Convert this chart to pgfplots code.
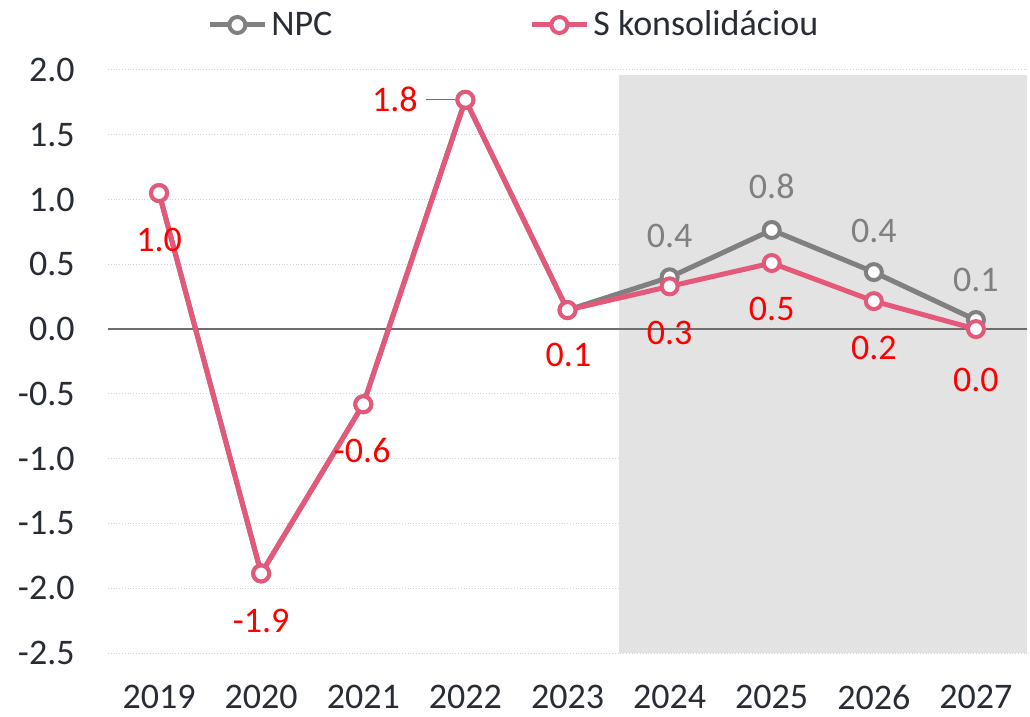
\documentclass[border=0pt]{standalone}
\usepackage{fontspec}
\setmainfont{Carlito}
\usepackage{pgfplots}
\pgfplotsset{compat=1.18}
\definecolor{npc}{RGB}{128,128,128}
\definecolor{kons}{RGB}{228,88,122}
\definecolor{shadebg}{RGB}{227,227,227}
\definecolor{txt}{RGB}{40,44,52}
\definecolor{lblred}{RGB}{255,0,0}
\definecolor{lblgray}{RGB}{128,128,128}
\definecolor{zeroline}{RGB}{110,110,110}
\begin{document}
\begin{tikzpicture}[font=\fontsize{18}{22}\selectfont]
\begin{axis}[
  set layers,
  scale only axis, width=459.5pt, height=291.5pt,
  xmin=-0.5, xmax=8.5, ymin=-2.5, ymax=2.0,
  axis line style={draw=none},
  xtick={0,1,2,3,4,5,6,7,8},
  xticklabels={2019,2020,2021,2022,2023,2024,2025,2026,2027},
  ytick={-2.5,-2,-1.5,-1,-0.5,0,0.5,1,1.5,2},
  yticklabels={-2.5,-2.0,-1.5,-1.0,-0.5,0.0,0.5,1.0,1.5,2.0},
  major tick length=0pt,
  ymajorgrids,
  major grid style={densely dotted, color=black!18, line width=0.5pt},
  tick label style={text=txt, inner sep=0pt},
  yticklabel style={anchor=east, xshift=-16.5pt},
  xticklabel style={anchor=north, yshift=-16pt},
  legend columns=2,
  legend style={draw=none, fill=none, at={(axis description cs:0.1077,1.0772)}, anchor=west,
    inner sep=0pt, text=txt, cells={anchor=west},
    /tikz/every even column/.append style={column sep=96.5pt}},
  legend image code/.code={\draw[mark repeat=2,mark phase=2,#1] plot coordinates {(0pt,0pt)(13.75pt,0pt)(27.5pt,0pt)};},
]
\fill[fill=shadebg, on layer=axis background] (axis cs:4.5,-2.5) rectangle (axis cs:8.5,1.96);
\draw[zeroline, line width=1pt] (axis cs:-0.5,0) -- (axis cs:8.5,0);

\addplot[npc, line width=2.5pt, mark=*, mark size=4pt, mark options={fill=white, draw=npc, line width=2pt, solid}]
  coordinates {(0,1.05) (1,-1.886) (2,-0.58) (3,1.77) (4,0.147) (5,0.40) (6,0.765) (7,0.44) (8,0.07)};
\addlegendentry{NPC}
\addplot[kons, line width=2.5pt, mark=*, mark size=4pt, mark options={fill=white, draw=kons, line width=2pt, solid}]
  coordinates {(0,1.05) (1,-1.886) (2,-0.58) (3,1.77) (4,0.147) (5,0.33) (6,0.51) (7,0.216) (8,0.0)};
\addlegendentry{S konsolidáciou}

\draw[zeroline, line width=0.6pt] (axis cs:2.618,1.77) -- (axis cs:2.902,1.77);
\node[text=lblred] at (axis cs:0,0.69) {1.0};
\node[text=lblred] at (axis cs:1,-2.25) {-1.9};
\node[text=lblred] at (axis cs:1.99,-0.935) {-0.6};
\node[text=lblred] at (axis cs:2.31,1.77) {1.8};
\node[text=lblred] at (axis cs:4.01,-0.2) {0.1};
\node[text=lblgray] at (axis cs:5,0.72) {0.4};
\node[text=lblgray] at (axis cs:6,1.105) {0.8};
\node[text=lblgray] at (axis cs:7,0.757) {0.4};
\node[text=lblgray] at (axis cs:8,0.38) {0.1};
\node[text=lblred] at (axis cs:5,-0.03) {0.3};
\node[text=lblred] at (axis cs:6,0.155) {0.5};
\node[text=lblred] at (axis cs:7,-0.147) {0.2};
\node[text=lblred] at (axis cs:8,-0.394) {0.0};
\end{axis}
\pgfresetboundingbox
\useasboundingbox ([xshift=-54pt,yshift=-31.5pt]current axis.south west) rectangle ([xshift=1.5pt,yshift=35pt]current axis.north east);
\end{tikzpicture}
\end{document}
